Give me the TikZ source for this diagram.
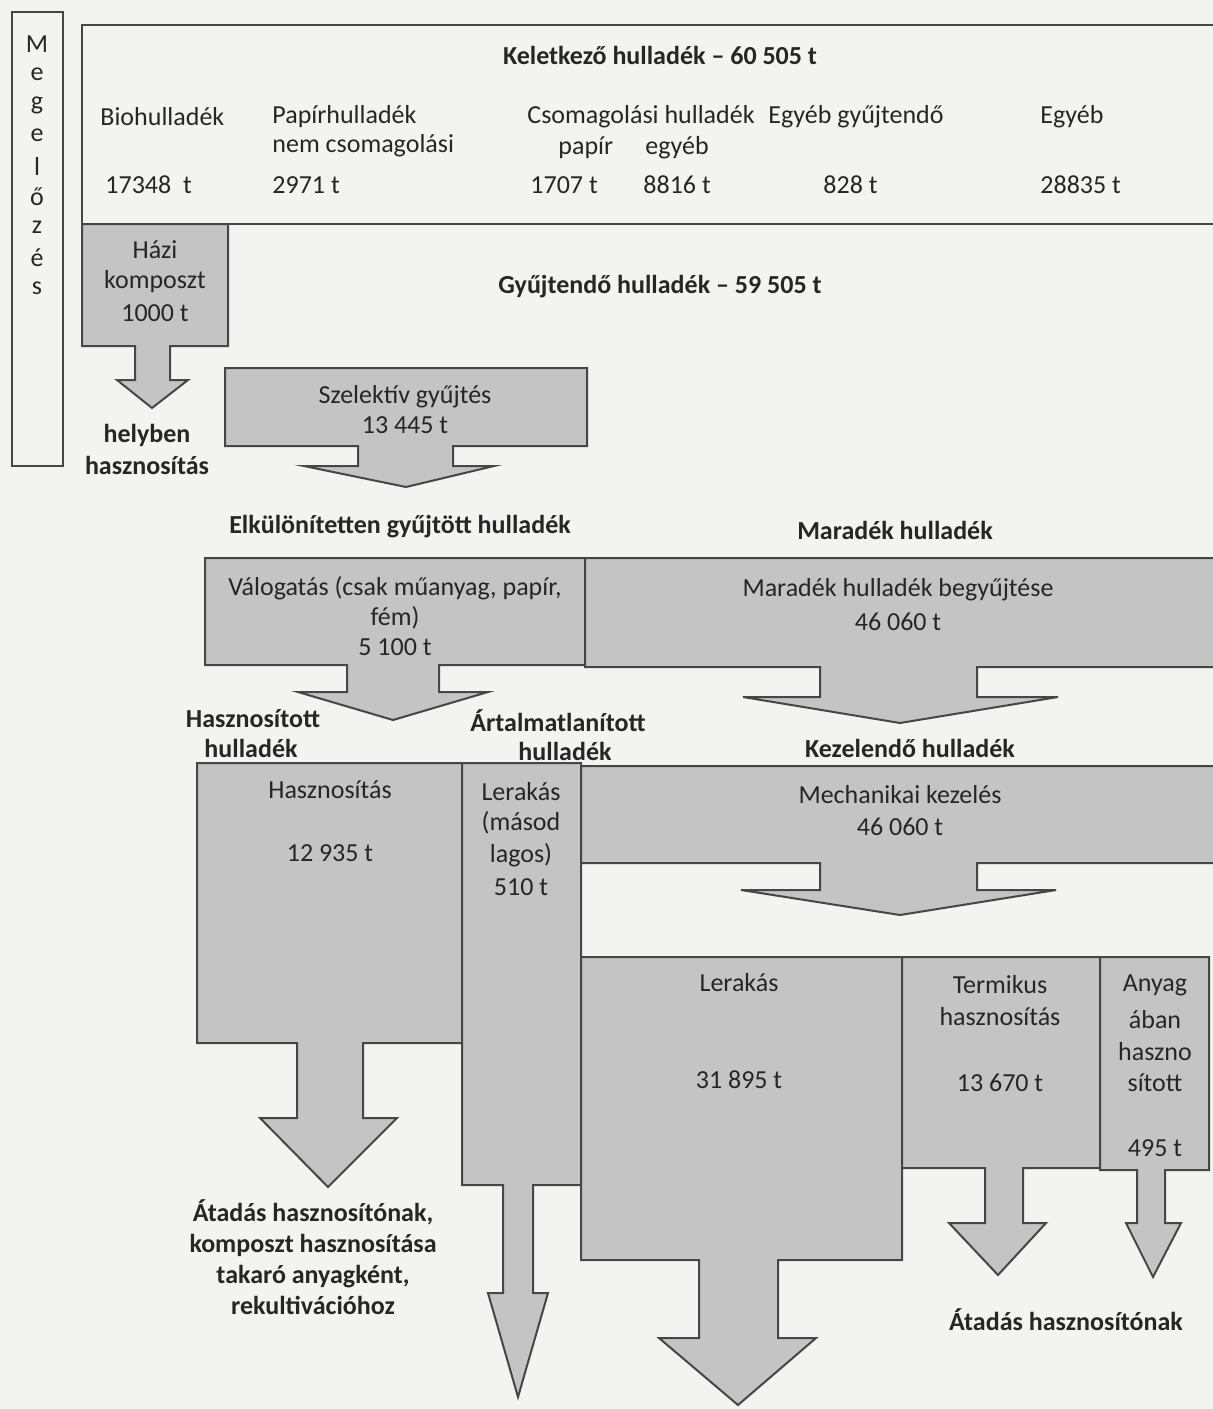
\documentclass[tikz,border=0pt]{standalone}
\usepackage{fontspec}
\setmainfont{Carlito}
\usepackage{tikz}
\usepackage{xcolor}

\definecolor{paper}{RGB}{243,243,241}
\definecolor{boxfill}{RGB}{196,196,196}
\definecolor{edge}{RGB}{70,70,70}

\begin{document}
\begin{tikzpicture}[x=0.5pt, y=-0.5pt,
    every node/.style={inner sep=0pt, font=\fontsize{13}{15.6}\selectfont, text=black!85},
    lbl/.style={font=\fontsize{13}{15.6}\selectfont\bfseries},
    flow/.style={draw=edge, line width=1pt, fill=boxfill, line join=miter}]
    % Frame
    \fill[paper] (0,0) rectangle (1213,1409);
    \clip (0,0) rectangle (1213,1409);

    % Megelozes column
    \draw[edge, line width=1pt] (12,12) rectangle (63,466);
    \foreach \ch [count=\i from 0] in {M,e,g,e,l,ő,z,é,s}
        \node at (37,{44+30.5*\i}) {\ch};

    % Generated waste
    \draw[edge, line width=1pt] (82,25) rectangle (1225,224);
    \node[lbl] (keletkezo) at (660,55) {Keletkező hulladék -- 60 505 t};
    \node[anchor=west] (bio) at (100,117) {Biohulladék};
    \node[anchor=west] (papir) at (272,117) {Papírhulladék};
    \node[anchor=west] (papir2) at (272,146) {nem csomagolási};
    \node[anchor=west] (csomag) at (527,117) {Csomagolási hulladék};
    \node[anchor=west] (csomagp) at (558,148) {papír};
    \node[anchor=west] (csomage) at (645,148) {egyéb};
    \node[anchor=west] (egyebgy) at (768,117) {Egyéb gyűjtendő};
    \node[anchor=west] (egyeb) at (1040,117) {Egyéb};
    \node[anchor=west] (biot) at (105,185) {17348~~t};
    \node[anchor=west] (papirt) at (272,185) {2971 t};
    \node[anchor=west] (csomagpt) at (530,185) {1707 t};
    \node[anchor=west] (csomaget) at (643,185) {8816 t};
    \node[anchor=west] (egyebgyt) at (823,185) {828 t};
    \node[anchor=west] (egyebt) at (1040,185) {28835 t};

    % Home compost
    \draw[flow] (82,224) -- (228,224) -- (228,346) -- (170,346) -- (170,380) -- (188,380)
        -- (152,408) -- (117,380) -- (135,380) -- (135,346) -- (82,346) -- cycle;
    \node (hazi) at (155,250) {Házi};
    \node (hazi2) at (155,282) {komposzt};
    \node (hazit) at (155,313) {1000 t};
    \node[lbl] (helyben) at (147,435) {helyben};
    \node[lbl] (helyben2) at (147,465) {hasznosítás};

    \node[lbl] (gyujtendo) at (660,287) {Gyűjtendő hulladék -- 59 505 t};

    % Selective collection
    \draw[flow] (225,368) -- (587,368) -- (587,446) -- (453,446) -- (453,466) -- (494,466)
        -- (406,487) -- (304,466) -- (358,466) -- (358,446) -- (225,446) -- cycle;
    \node (szelektiv) at (405,397) {Szelektív gyűjtés};
    \node (szelektivt) at (405,425) {13 445 t};

    \node[lbl] (elkulon) at (400,527) {Elkülönítetten gyűjtött hulladék};
    \node[lbl] (maradek) at (895,530) {Maradék hulladék};

    % Sorting and residual collection
    \draw[flow] (205,558) -- (585,558) -- (585,665) -- (439,665) -- (439,692) -- (488,692)
        -- (393,720) -- (298,692) -- (347,692) -- (347,665) -- (205,665) -- cycle;
    \draw[flow] (585,558) -- (1225,558) -- (1225,667) -- (977,667) -- (977,697) -- (1058,697)
        -- (900,723) -- (743,697) -- (820,697) -- (820,667) -- (585,667) -- cycle;
    \node (valog) at (395,588) {Válogatás (csak műanyag, papír,};
    \node (valog2) at (395,618) {fém)};
    \node (valogt) at (395,647) {5 100 t};
    \node (begyujt) at (898,590) {Maradék hulladék begyűjtése};
    \node (begyujtt) at (898,622) {46 060 t};

    \node[lbl] (haszn) at (253,719) {Hasznosított};
    \node[lbl] (haszn2) at (251,748) {hulladék};
    \node[lbl] (artalm) at (558,721) {Ártalmatlanított};
    \node[lbl] (artalm2) at (565,751) {hulladék};
    \node[lbl] (kezel) at (910,748) {Kezelendő hulladék};

    % Recovery, secondary landfill, mechanical treatment
    \draw[flow] (197,763) -- (462,763) -- (462,1043) -- (363,1043) -- (363,1118) -- (397,1118)
        -- (328,1187) -- (260,1118) -- (297,1118) -- (297,1043) -- (197,1043) -- cycle;
    \draw[flow] (462,763) -- (581,763) -- (581,1185) -- (533,1185) -- (533,1293) -- (548,1293)
        -- (518,1397) -- (488,1293) -- (503,1293) -- (503,1185) -- (462,1185) -- cycle;
    \draw[flow] (581,766) -- (1225,766) -- (1225,863) -- (977,863) -- (977,890) -- (1056,890)
        -- (900,915) -- (741,890) -- (820,890) -- (820,863) -- (581,863) -- cycle;
    \node (hasznositas) at (330,790) {Hasznosítás};
    \node (hasznositast) at (330,853) {12 935 t};
    \node (lerak1) at (521,792) {Lerakás};
    \node (lerak1b) at (521,823) {(másod};
    \node (lerak1c) at (521,855) {lagos)};
    \node (lerak1t) at (521,887) {510 t};
    \node (mech) at (900,795) {Mechanikai kezelés};
    \node (mecht) at (900,827) {46 060 t};

    % Landfill, thermal and material recovery
    \draw[flow] (581,957) -- (902,957) -- (902,1260) -- (778,1260) -- (778,1338) -- (816,1338)
        -- (738,1405) -- (659,1338) -- (699,1338) -- (699,1260) -- (581,1260) -- cycle;
    \draw[flow] (902,957) -- (1100,957) -- (1100,1168) -- (1023,1168) -- (1023,1223) -- (1046,1223)
        -- (998,1275) -- (949,1223) -- (985,1223) -- (985,1168) -- (902,1168) -- cycle;
    \draw[flow] (1100,957) -- (1209,957) -- (1209,1170) -- (1165,1170) -- (1165,1223) -- (1181,1223)
        -- (1153,1277) -- (1126,1223) -- (1137,1223) -- (1137,1170) -- (1100,1170) -- cycle;
    \node (lerak2) at (739,983) {Lerakás};
    \node (lerak2t) at (739,1080) {31 895 t};
    \node (termik) at (1000,985) {Termikus};
    \node (termik2) at (1000,1017) {hasznosítás};
    \node (termikt) at (1000,1083) {13 670 t};
    \node (anyag) at (1155,985) {Anyag};
    \node (anyag2) at (1155,1020) {ában};
    \node (anyag3) at (1155,1052) {haszno};
    \node (anyag4) at (1155,1083) {sított};
    \node (anyagt) at (1155,1148) {495 t};

    % Outputs
    \node[lbl, align=center] (atadas) at (313,1257) {Átadás hasznosítónak,\\komposzt hasznosítása\\takaró anyagként,\\rekultivációhoz};
    \node[lbl] (atadas2) at (1066,1320) {Átadás hasznosítónak};
\end{tikzpicture}
\end{document}
